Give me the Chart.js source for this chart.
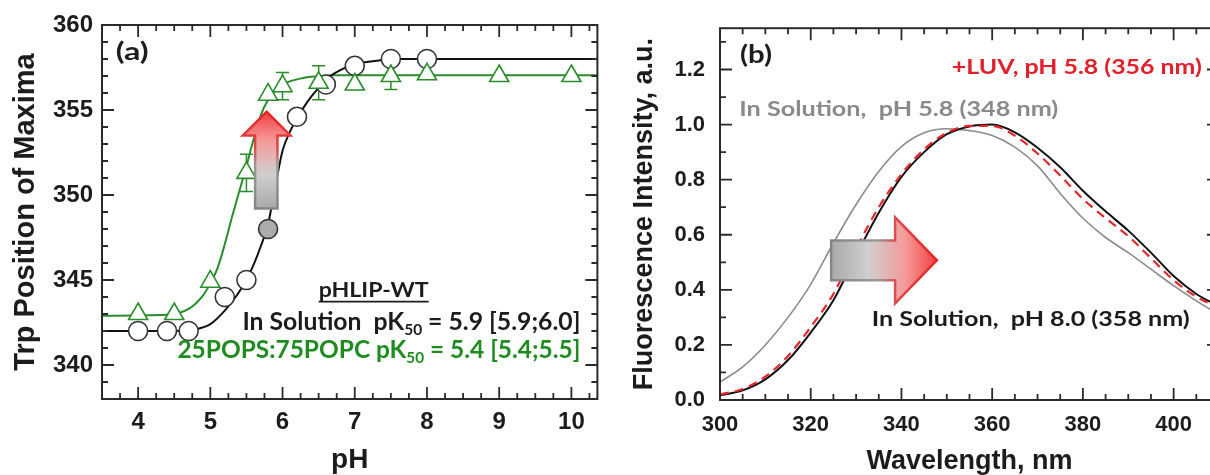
<!DOCTYPE html>
<html>
<head>
<meta charset="utf-8">
<script src="https://cdn.jsdelivr.net/npm/chart.js@4.4.1/dist/chart.umd.min.js"></script>
<style>
  html, body { margin: 0; padding: 0; background: #fff; }
  body { width: 1210px; height: 475px; overflow: hidden; position: relative; }
  #wrapA { position: absolute; left: 0; top: 0; width: 610px; height: 475px; }
  #wrapB { position: absolute; left: 612px; top: 0; width: 616px; height: 475px; }
</style>
</head>
<body>
<div id="wrapA"><canvas id="chartA" width="610" height="475"></canvas></div>
<div id="wrapB"><canvas id="chartB" width="616" height="475"></canvas></div>

<script>
/* ── (a) Trp emission maximum vs pH ── */
const phSolution  = [4.0, 4.4, 4.7, 5.2, 5.5, 5.8, 6.2, 6.6, 7.0, 7.5, 8.0];
const maxSolution = [342.0, 342.0, 342.0, 344.0, 345.0, 348.0, 354.6, 356.5, 357.6, 358.0, 358.0];
const highlightPh = 5.8;

const phLipid  = [4.0, 4.5, 5.0, 5.5, 5.8, 6.0, 6.5, 7.0, 7.5, 8.0, 9.0, 10.0];
const maxLipid = [343.0, 343.0, 344.9, 351.3, 355.9, 356.4, 356.6, 356.5, 357.0, 357.1, 357.0, 357.0];
const errLipid = [0, 0, 0, 1.1, 0, 0.8, 1.0, 0, 0.8, 0, 0, 0];

// fitted curves
const fitSolPh  = [3.5, 4.5, 4.8, 5.0, 5.2, 5.35, 5.5, 5.6, 5.7, 5.8, 5.9, 6.0, 6.1, 6.2, 6.3, 6.4, 6.5, 6.6, 6.8, 7.0, 7.3, 7.6, 8.0, 10.36];
const fitSolVal = [342.0, 342.0, 342.1, 342.4, 343.2, 344.0, 345.0, 345.9, 347.0, 348.3, 350.5, 352.6, 353.7, 354.5, 355.2, 355.8, 356.3, 356.8, 357.35, 357.7, 357.9, 358.0, 358.0, 358.0];
const fitLipPh  = [3.5, 4.4, 4.7, 4.9, 5.0, 5.1, 5.2, 5.3, 5.4, 5.5, 5.6, 5.7, 5.8, 5.9, 6.0, 6.2, 6.4, 6.7, 7.0, 10.36];
const fitLipVal = [342.9, 342.95, 343.3, 344.1, 344.8, 345.7, 347.1, 348.7, 350.2, 351.7, 353.3, 354.7, 355.6, 356.15, 356.5, 356.8, 356.95, 357.05, 357.05, 357.05];

const phTicks  = [4, 5, 6, 7, 8, 9, 10];
const trpTicks = [340, 345, 350, 355, 360];

/* ── (b) normalised fluorescence spectra ── */
const wavelength = [300, 305, 310, 315, 320, 325, 330, 335, 340, 345, 350, 355, 360, 365, 370, 375, 380, 385, 390, 395, 400, 405, 410];
const specPh80   = [0.017, 0.035, 0.075, 0.145, 0.245, 0.362, 0.525, 0.68, 0.81, 0.90, 0.965, 0.993, 1.0, 0.972, 0.916, 0.845, 0.76, 0.685, 0.615, 0.535, 0.45, 0.385, 0.34];
const specLuv    = [0.02, 0.04, 0.085, 0.16, 0.265, 0.385, 0.55, 0.70, 0.82, 0.91, 0.97, 0.995, 0.995, 0.96, 0.895, 0.815, 0.73, 0.66, 0.595, 0.515, 0.435, 0.375, 0.335];
const specPh58   = [0.065, 0.12, 0.20, 0.30, 0.42, 0.57, 0.71, 0.83, 0.92, 0.97, 0.985, 0.978, 0.96, 0.918, 0.85, 0.75, 0.66, 0.59, 0.535, 0.475, 0.415, 0.36, 0.31];

const wlTicks = [300, 320, 340, 360, 380, 400];
const flTicks = [0.0, 0.2, 0.4, 0.6, 0.8, 1.0, 1.2];

const AXIS_FONT  = '"Liberation Sans", Arial, sans-serif';
const LABEL_FONT = 'Lato, "Open Sans", sans-serif';
const GREEN = '#2a8c2a';
const INK   = '#1c1c1c';

const pts = (xs, ys) => xs.map((x, i) => ({ x, y: ys[i] }));

/* frame on 4 sides with inward major/minor ticks */
const framePlugin = {
  id: 'frame',
  afterDatasetsDraw(chart, args, o) {
    const { ctx, chartArea: { left, right, top, bottom }, scales: { x, y } } = chart;
    ctx.save();
    ctx.strokeStyle = '#2a2a2a';
    ctx.lineWidth = 2;
    ctx.strokeRect(left, top, right - left, bottom - top);
    ctx.lineWidth = 1.8;
    const mark = (sc, step, majors) => {
      const out = [];
      for (let v = Math.ceil(sc.min / step - 1e-9) * step; v <= sc.max + 1e-9; v += step) {
        const major = majors.some(m => Math.abs(m - v) < step / 10);
        out.push({ p: sc.getPixelForValue(v), len: major ? 12 : 6 });
      }
      return out;
    };
    ctx.beginPath();
    mark(x, o.xMinor, o.xMajor).forEach(t => {
      ctx.moveTo(t.p, bottom); ctx.lineTo(t.p, bottom - t.len);
      ctx.moveTo(t.p, top);    ctx.lineTo(t.p, top + t.len);
    });
    mark(y, o.yMinor, o.yMajor).forEach(t => {
      ctx.moveTo(left, t.p);  ctx.lineTo(left + t.len, t.p);
      ctx.moveTo(right, t.p); ctx.lineTo(right - t.len, t.p);
    });
    ctx.stroke();
    ctx.restore();
  }
};

function drawLabel(ctx, parts, px, py, t) {
  const size = t.size, sub = Math.round(size * 0.64);
  const fontOf = p => `bold ${p.sub ? sub : size}px ${LABEL_FONT}`;
  let natural = 0;
  parts.forEach(p => { ctx.font = fontOf(p); natural += ctx.measureText(p.t).width; });
  const sx = t.width / natural;
  const x0 = t.align === 'right' ? px - t.width : px;
  ctx.save();
  ctx.fillStyle = t.color;
  ctx.textBaseline = 'alphabetic';
  ctx.translate(x0, py);
  ctx.scale(sx, 1);
  let cx = 0;
  parts.forEach(p => {
    ctx.font = fontOf(p);
    ctx.fillText(p.t, cx, p.sub ? size * 0.2 : 0);
    cx += ctx.measureText(p.t).width;
  });
  ctx.restore();
  if (t.underline) {
    ctx.save();
    ctx.strokeStyle = t.color;
    ctx.lineWidth = 1.6;
    ctx.beginPath();
    ctx.moveTo(x0, py + 5); ctx.lineTo(x0 + t.width, py + 5);
    ctx.stroke();
    ctx.restore();
  }
}

function drawArrow(ctx, poly, g0, g1) {
  const fill = ctx.createLinearGradient(g0.x, g0.y, g1.x, g1.y);
  fill.addColorStop(0, '#a9a9a9');
  fill.addColorStop(0.35, '#cfcfcf');
  fill.addColorStop(0.7, '#f59a9a');
  fill.addColorStop(1, '#f24040');
  const edge = ctx.createLinearGradient(g0.x, g0.y, g1.x, g1.y);
  edge.addColorStop(0, '#858585');
  edge.addColorStop(0.45, '#9a9a9a');
  edge.addColorStop(0.62, '#e04848');
  edge.addColorStop(1, '#e52222');
  ctx.save();
  ctx.beginPath();
  poly.forEach((p, i) => i ? ctx.lineTo(p.x, p.y) : ctx.moveTo(p.x, p.y));
  ctx.closePath();
  ctx.fillStyle = fill;
  ctx.fill();
  ctx.strokeStyle = edge;
  ctx.lineWidth = 2.5;
  ctx.stroke();
  ctx.restore();
}

const annotPlugin = {
  id: 'annot',
  beforeDatasetsDraw(chart, args, o) {
    const { ctx, scales: { x, y } } = chart;
    if (o.errors) {
      const e = o.errors;
      ctx.save();
      ctx.strokeStyle = e.color;
      ctx.lineWidth = 1.5;
      ctx.beginPath();
      e.x.forEach((xv, i) => {
        if (!e.err[i]) return;
        const px = x.getPixelForValue(xv);
        const hi = y.getPixelForValue(e.y[i] + e.err[i]);
        const lo = y.getPixelForValue(e.y[i] - e.err[i]);
        ctx.moveTo(px, hi); ctx.lineTo(px, lo);
        ctx.moveTo(px - 6.5, hi); ctx.lineTo(px + 6.5, hi);
        ctx.moveTo(px - 6.5, lo); ctx.lineTo(px + 6.5, lo);
      });
      ctx.stroke();
      ctx.restore();
    }
  },
  afterDraw(chart, args, o) {
    const { ctx, scales: { x, y } } = chart;
    const P = (a, b) => ({ x: x.getPixelForValue(a), y: y.getPixelForValue(b) });
    const a = o.arrow;
    if (a.dir === 'up') {
      const poly = [P(a.x0, a.base), P(a.x0, a.neck), P(a.h0, a.neck), P((a.h0 + a.h1) / 2, a.tip),
                    P(a.h1, a.neck), P(a.x1, a.neck), P(a.x1, a.base)];
      drawArrow(ctx, poly, P(a.x0, a.base), P(a.x0, a.tip));
    } else {
      const poly = [P(a.base, a.y0), P(a.neck, a.y0), P(a.neck, a.h0), P(a.tip, (a.h0 + a.h1) / 2),
                    P(a.neck, a.h1), P(a.neck, a.y1), P(a.base, a.y1)];
      drawArrow(ctx, poly, P(a.base, a.y0), P(a.tip, a.y0));
    }
    o.texts.forEach(t => {
      const p = P(t.x, t.y);
      drawLabel(ctx, t.parts, p.x, p.y, t);
    });
  }
};

const axisTicks = size => ({ font: { family: AXIS_FONT, size, weight: 'bold' }, color: INK, autoSkip: false, maxRotation: 0 });
const axisTitle = (text, size, padding) => ({ display: true, text, color: INK, padding,
  font: { family: AXIS_FONT, size, weight: 'bold', lineHeight: 1 } });

/* ── Panel (a) ── */
new Chart(document.getElementById('chartA'), {
  type: 'scatter',
  data: {
    datasets: [
      {
        data: pts(phLipid, maxLipid),
        pointStyle: 'triangle', pointRadius: 11, pointBorderWidth: 1.6,
        pointBorderColor: GREEN, pointBackgroundColor: '#fff', showLine: false
      },
      {
        data: pts(phSolution, maxSolution),
        pointStyle: 'circle', pointRadius: 9.5, pointBorderWidth: 1.6,
        pointBorderColor: '#333',
        pointBackgroundColor: phSolution.map(p => p === highlightPh ? '#ababab' : '#fff'),
        showLine: false
      },
      {
        data: pts(fitSolPh, fitSolVal), showLine: true, pointRadius: 0,
        borderColor: '#111', borderWidth: 2, cubicInterpolationMode: 'monotone'
      },
      {
        data: pts(fitLipPh, fitLipVal), showLine: true, pointRadius: 0,
        borderColor: GREEN, borderWidth: 2, cubicInterpolationMode: 'monotone'
      }
    ]
  },
  options: {
    responsive: false, animation: false,
    layout: { padding: { top: 25, right: 10, left: 0, bottom: 0 } },
    plugins: {
      legend: { display: false }, tooltip: { enabled: false },
      frame: { xMajor: phTicks, xMinor: 0.25, yMajor: trpTicks, yMinor: 1 },
      annot: {
        errors: { x: phLipid, y: maxLipid, err: errLipid, color: GREEN },
        arrow: { dir: 'up', x0: 5.62, x1: 5.93, h0: 5.45, h1: 6.11, base: 349.2, neck: 353.5, tip: 354.9 },
        texts: [
          { parts: [{ t: '(a)' }], x: 3.69, y: 357.94, width: 33, size: 24, color: INK },
          { parts: [{ t: 'pHLIP-WT' }], x: 6.50, y: 344.02, width: 110, size: 21, color: INK, underline: true },
          { parts: [{ t: 'In Solution  pK' }, { t: '50', sub: true }, { t: ' = 5.9 [5.9;6.0]' }],
            x: 10.125, y: 342.06, width: 338, size: 24, color: INK, align: 'right' },
          { parts: [{ t: '25POPS:75POPC pK' }, { t: '50', sub: true }, { t: ' = 5.4 [5.4;5.5]' }],
            x: 10.125, y: 340.39, width: 403, size: 24, color: '#1e8c1e', align: 'right' }
        ]
      }
    },
    scales: {
      x: {
        type: 'linear', min: 3.5, max: 10.36,
        afterBuildTicks: s => { s.ticks = phTicks.map(v => ({ value: v })); },
        afterFit: s => { s.height = 76; },
        grid: { display: false, drawTicks: false }, border: { display: false },
        ticks: { ...axisTicks(24), padding: 9 },
        title: axisTitle('pH', 28, { top: 0, bottom: 1 })
      },
      y: {
        type: 'linear', min: 338, max: 360,
        afterBuildTicks: s => { s.ticks = trpTicks.map(v => ({ value: v })); },
        afterFit: s => { s.width = 102; },
        grid: { display: false, drawTicks: false }, border: { display: false },
        ticks: { ...axisTicks(24), padding: 9 },
        title: axisTitle('Trp Position of Maxima', 29, { top: 11, bottom: 0 })
      }
    }
  },
  plugins: [framePlugin, annotPlugin]
});

/* ── Panel (b) ── */
new Chart(document.getElementById('chartB'), {
  type: 'scatter',
  data: {
    datasets: [
      {
        data: pts(wavelength, specLuv), showLine: true, pointRadius: 0,
        borderColor: '#e8262b', borderWidth: 2.2, borderDash: [9, 6], cubicInterpolationMode: 'monotone'
      },
      {
        data: pts(wavelength, specPh80), showLine: true, pointRadius: 0,
        borderColor: '#111', borderWidth: 2, cubicInterpolationMode: 'monotone'
      },
      {
        data: pts(wavelength, specPh58), showLine: true, pointRadius: 0,
        borderColor: '#8c8c8c', borderWidth: 1.6, cubicInterpolationMode: 'monotone'
      }
    ]
  },
  options: {
    responsive: false, animation: false,
    layout: { padding: { top: 25, right: 9, left: 0, bottom: 0 } },
    plugins: {
      legend: { display: false }, tooltip: { enabled: false },
      frame: { xMajor: wlTicks, xMinor: 5, yMajor: flTicks, yMinor: 0.1 },
      annot: {
        arrow: { dir: 'right', y0: 0.579, y1: 0.435, h0: 0.663, h1: 0.351, base: 324.5, neck: 338.6, tip: 347.8 },
        texts: [
          { parts: [{ t: '(b)' }], x: 304.4, y: 1.224, width: 32, size: 24, color: INK },
          { parts: [{ t: '+LUV, pH 5.8 (356 nm)' }], x: 351.1, y: 1.182, width: 250, size: 21, color: '#e1202a' },
          { parts: [{ t: 'In Solution,  pH 5.8 (348 nm)' }], x: 304.25, y: 1.032, width: 319, size: 21, color: '#8a8a8a' },
          { parts: [{ t: 'In Solution,  pH 8.0 (358 nm)' }], x: 333.45, y: 0.27, width: 318, size: 21, color: INK }
        ]
      }
    },
    scales: {
      x: {
        type: 'linear', min: 300, max: 410,
        afterBuildTicks: s => { s.ticks = wlTicks.map(v => ({ value: v })); },
        afterFit: s => { s.height = 75; },
        grid: { display: false, drawTicks: false }, border: { display: false },
        ticks: { ...axisTicks(22), padding: 12 },
        title: axisTitle('Wavelength, nm', 27, { top: 0, bottom: 0 })
      },
      y: {
        type: 'linear', min: 0, max: 1.35,
        afterBuildTicks: s => { s.ticks = flTicks.map(v => ({ value: v })); },
        afterFit: s => { s.width = 108; },
        grid: { display: false, drawTicks: false }, border: { display: false },
        ticks: { ...axisTicks(22), padding: 15, callback: v => v.toFixed(1) },
        title: axisTitle('Fluorescence Intensity, a.u.', 27, { top: 19, bottom: 0 })
      }
    }
  },
  plugins: [framePlugin, annotPlugin]
});
</script>
</body>
</html>
